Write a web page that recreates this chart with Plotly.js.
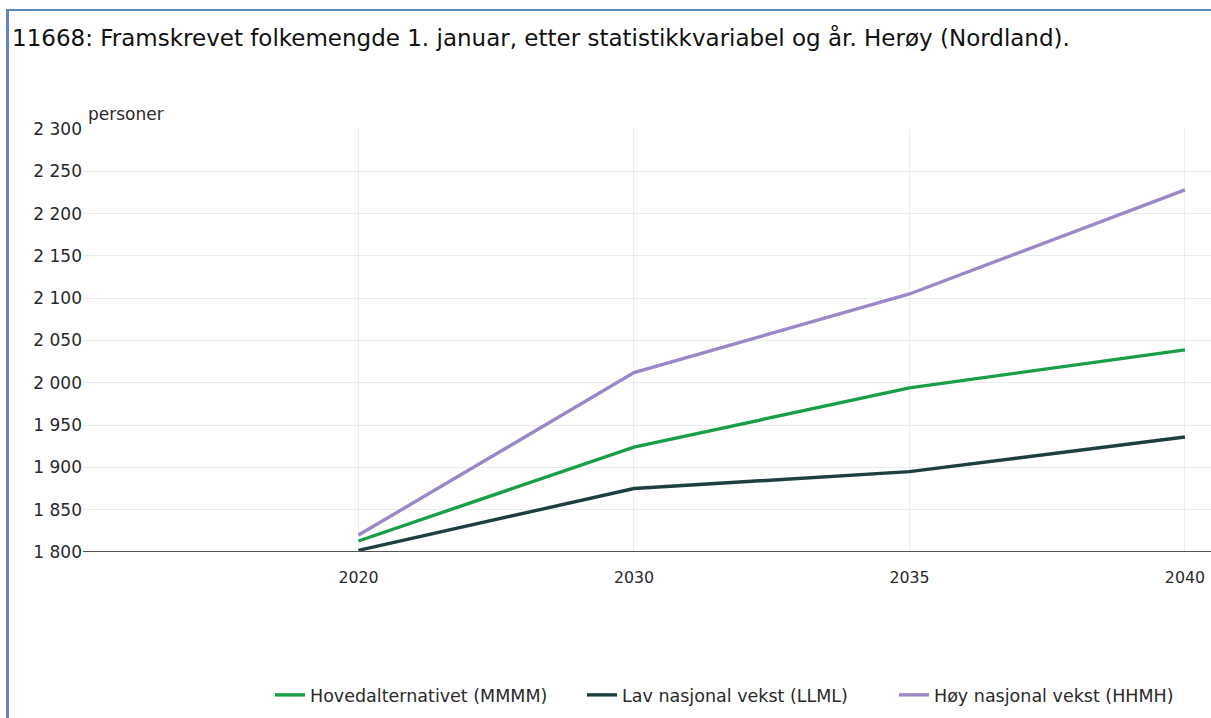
<!DOCTYPE html>
<html>
<head>
<meta charset="utf-8">
<script src="https://cdn.plot.ly/plotly-3.0.1.min.js"></script>
<style>
html,body{margin:0;padding:0;background:#fff;width:1211px;height:718px;overflow:hidden;}
#frame{position:absolute;left:6px;top:9px;width:1220px;height:720px;border-left:3px solid #5b86c4;border-top:2px solid #5b86c4;}
#chart{position:absolute;left:0;top:0;width:1211px;height:718px;}
</style>
</head>
<body>
<div id="frame"></div>
<div id="chart"></div>
<script>
const years = ["2020", "2030", "2035", "2040"];
const seriesNames = ["Hovedalternativet (MMMM)", "Lav nasjonal vekst (LLML)", "Høy nasjonal vekst (HHMH)"];
const hoved = [1813, 1924, 1994, 2039];
const lav = [1802, 1875, 1895, 1936];
const hoy = [1820, 2012, 2105, 2228];
const colors = ["#1a9e48", "#1e3f42", "#9b87c8"];
const yTicks = [1800, 1850, 1900, 1950, 2000, 2050, 2100, 2150, 2200, 2250, 2300];
const yTickText = ["1 800", "1 850", "1 900", "1 950", "2 000", "2 050", "2 100", "2 150", "2 200", "2 250", "2 300"];

const font = "DejaVu Sans, Verdana, sans-serif";
const data = [hoved, lav, hoy].map((v, i) => ({
  x: years, y: v, type: "scatter", mode: "lines", name: seriesNames[i],
  line: {color: colors[i], width: 3.4}, cliponaxis: false
}));

const layout = {
  width: 1211, height: 718,
  margin: {l: 83, r: 0, t: 129, b: 166},
  paper_bgcolor: "rgba(0,0,0,0)", plot_bgcolor: "rgba(0,0,0,0)",
  font: {family: font, color: "#2a2a2a", size: 15},
  title: {text: "11668: Framskrevet folkemengde 1. januar, etter statistikkvariabel og år. Herøy (Nordland).",
    x: 12/1211, xanchor: "left", xref: "container", y: 1 - 38/718, yanchor: "middle", yref: "container",
    font: {family: font, size: 23, color: "#111"}},
  xaxis: {type: "category", range: [-1, 3 + 26/275], showgrid: true, gridcolor: "#e8eded", gridwidth: 1,
    tickfont: {size: 15.8, color: "#2a2a2a"}, ticks: "", ticklabelstandoff: 14, showline: false, zeroline: false},
  yaxis: {range: [1800, 2300], tickvals: yTicks, ticktext: yTickText, showgrid: true, gridcolor: "#e8eded",
    gridwidth: 1, tickfont: {size: 17, color: "#2a2a2a"}, ticks: "", ticklabelstandoff: 0, showline: false, zeroline: false},
  shapes: [{type: "line", xref: "paper", yref: "y", x0: 0, x1: 1.05, y0: 1800, y1: 1800,
    line: {color: "#555555", width: 2}}],
  annotations: [{text: "personer", xref: "paper", yref: "paper", x: 3/1128, y: 1, xanchor: "left", yanchor: "bottom",
    yshift: 3, showarrow: false, font: {size: 17, color: "#2a2a2a"}}],
  showlegend: true,
  legend: {orientation: "h", x: 270/1211, xref: "container", xanchor: "left", y: 1 - 695/718, yref: "container",
    yanchor: "middle", font: {size: 17.5, color: "#2a2a2a"}, itemwidth: 30, tracegroupgap: 0,
    entrywidth: 267, entrywidthmode: "pixels"}
};
Plotly.newPlot("chart", data, layout, {displayModeBar: false, staticPlot: true});
</script>
</body>
</html>
